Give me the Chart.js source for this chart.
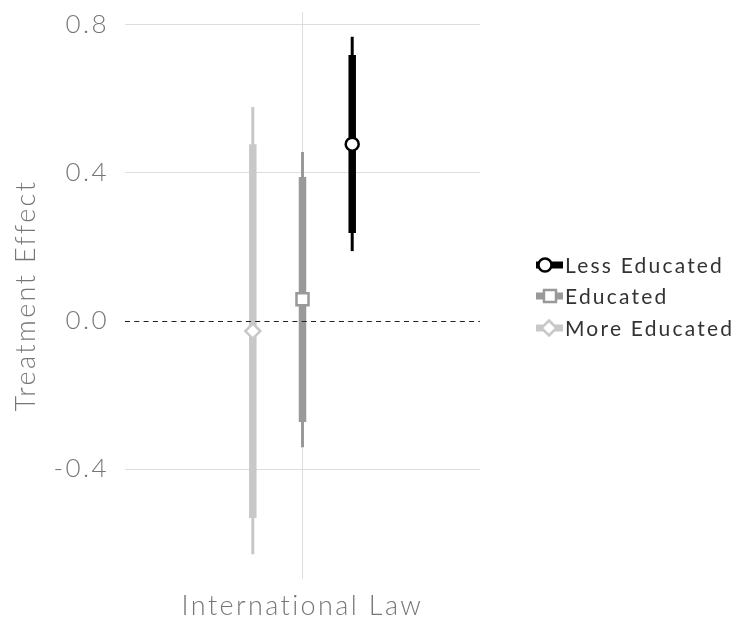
<!DOCTYPE html>
<html>
<head>
<meta charset="utf-8">
<script src="https://cdn.jsdelivr.net/npm/chart.js@4.4.1/dist/chart.umd.min.js"></script>
<style>
  html, body { margin: 0; padding: 0; background: #ffffff; }
  #wrap { width: 737px; height: 622px; position: relative; }
</style>
</head>
<body>
<div id="wrap"><canvas id="c" width="737" height="622"></canvas></div>
<script>
// Treatment effects by education level, with 90% (thick) and 95% (thin) intervals
const categories = ["International Law"];
const groups = ["Less Educated", "Educated", "More Educated"];
const estimate = [0.478, 0.059, -0.027];
const ci90Low  = [0.238, -0.273, -0.532];
const ci90High = [0.719, 0.389, 0.478];
const ci95Low  = [0.189, -0.341, -0.630];
const ci95High = [0.768, 0.457, 0.578];
const yTicks = [-0.4, 0.0, 0.4, 0.8];

const colors = ["#000000", "#999999", "#c8c8c8"];
const markers = ["circle", "rect", "rectRot"];
const markerRadius = [6.5, 8.5, 7.5];
const legendMarkerX = [545, 550, 549];
const dodge = [0.14, 0, -0.14];   // horizontal offset of each group within the category
const FONT = "Lato, 'Open Sans', sans-serif";
const SPACING = "2.4px";

const datasets = [];
groups.forEach((g, i) => {
  const x = 0 + dodge[i];
  datasets.push({
    label: g + " 95%", type: "line",
    data: [{x: x, y: ci95Low[i]}, {x: x, y: ci95High[i]}],
    borderColor: colors[i], borderWidth: 3, borderCapStyle: "butt",
    pointRadius: 0, order: 3
  });
  datasets.push({
    label: g + " 90%", type: "line",
    data: [{x: x, y: ci90Low[i]}, {x: x, y: ci90High[i]}],
    borderColor: colors[i], borderWidth: 7.5, borderCapStyle: "butt",
    pointRadius: 0, order: 2
  });
  datasets.push({
    label: g, type: "scatter",
    data: [{x: x, y: estimate[i]}],
    pointStyle: markers[i], pointRadius: markerRadius[i],
    pointBackgroundColor: "#ffffff", pointBorderColor: colors[i],
    pointBorderWidth: 2.5, order: 1
  });
});

// wide tracking for all text, set before measuring
const tracking = {
  id: "tracking",
  beforeLayout(chart) { chart.ctx.letterSpacing = SPACING; },
  beforeDraw(chart) { chart.ctx.letterSpacing = SPACING; }
};

// dashed reference line at zero
const zeroLine = {
  id: "zeroLine",
  afterDatasetsDraw(chart) {
    const {ctx, chartArea, scales} = chart;
    const y = Math.floor(scales.y.getPixelForValue(0)) + 0.5;
    ctx.save();
    ctx.strokeStyle = "#222222";
    ctx.lineWidth = 1;
    ctx.setLineDash([5, 4.3]);
    ctx.beginPath();
    ctx.moveTo(chartArea.left, y);
    ctx.lineTo(chartArea.right, y);
    ctx.stroke();
    ctx.restore();
  }
};

function drawShape(ctx, style, r, x, y) {
  if (style === "circle") {
    ctx.arc(x, y, r, 0, Math.PI * 2);
  } else if (style === "rect") {
    const s = r * Math.SQRT1_2;
    ctx.rect(x - s, y - s, 2 * s, 2 * s);
  } else {
    ctx.moveTo(x, y - r); ctx.lineTo(x + r, y); ctx.lineTo(x, y + r); ctx.lineTo(x - r, y); ctx.closePath();
  }
}

// legend keys: interval line with the group's marker
const legendKeys = {
  id: "legendKeys",
  afterDraw(chart) {
    const {ctx} = chart;
    const x0 = 536, rowY = [265, 296, 328];
    ctx.save();
    groups.forEach((g, i) => {
      const y = rowY[i];
      ctx.strokeStyle = colors[i];
      ctx.lineWidth = 7;
      ctx.lineCap = "butt";
      ctx.beginPath();
      ctx.moveTo(x0, y);
      ctx.lineTo(x0 + 27, y);
      ctx.stroke();
      ctx.fillStyle = "#ffffff";
      ctx.lineWidth = 2.5;
      ctx.beginPath();
      drawShape(ctx, markers[i], markerRadius[i], legendMarkerX[i], y);
      ctx.fill();
      ctx.stroke();
      ctx.fillStyle = "#333333";
      ctx.letterSpacing = "2.2px";
      ctx.font = "400 21px " + FONT;
      ctx.textBaseline = "middle";
      ctx.textAlign = "left";
      ctx.fillText(g, 565, y + 1);
    });
    ctx.restore();
  }
};

new Chart(document.getElementById("c"), {
  type: "scatter",
  data: { datasets },
  plugins: [tracking, zeroLine, legendKeys],
  options: {
    responsive: false,
    animation: false,
    layout: { padding: { top: 12, right: 257, left: 0, bottom: 0 } },
    plugins: { legend: { display: false }, tooltip: { enabled: false } },
    scales: {
      x: {
        type: "linear", min: -0.5, max: 0.5,
        afterBuildTicks: s => { s.ticks = categories.map((c, i) => ({value: i})); },
        afterFit: s => { s.height = 43; s.paddingLeft = 0; s.paddingRight = 0; },
        ticks: {
          callback: v => categories[v] ?? "",
          color: "#777777",
          font: { family: FONT, size: 27, weight: 300 },
          padding: 11, maxRotation: 0
        },
        grid: { color: "#dddddd", lineWidth: 1, drawTicks: false },
        border: { display: false }
      },
      y: {
        type: "linear", min: -0.697, max: 0.835,
        afterBuildTicks: s => { s.ticks = yTicks.map(v => ({value: v})); },
        afterFit: s => { s.width = 125; s.paddingTop = 0; s.paddingBottom = 0; },
        ticks: {
          callback: v => v.toFixed(1),
          color: "#777777",
          font: { family: FONT, size: 26, weight: 300 },
          padding: 16
        },
        grid: {
          color: ctx => (ctx.tick && ctx.tick.value === 0) ? "rgba(0,0,0,0)" : "#dddddd",
          lineWidth: 1, drawTicks: false
        },
        border: { display: false },
        title: {
          display: true, text: "Treatment Effect",
          color: "#777777",
          font: { family: FONT, size: 27, weight: 300 },
          padding: { top: 10, bottom: 0 }
        }
      }
    }
  }
});
</script>
</body>
</html>
